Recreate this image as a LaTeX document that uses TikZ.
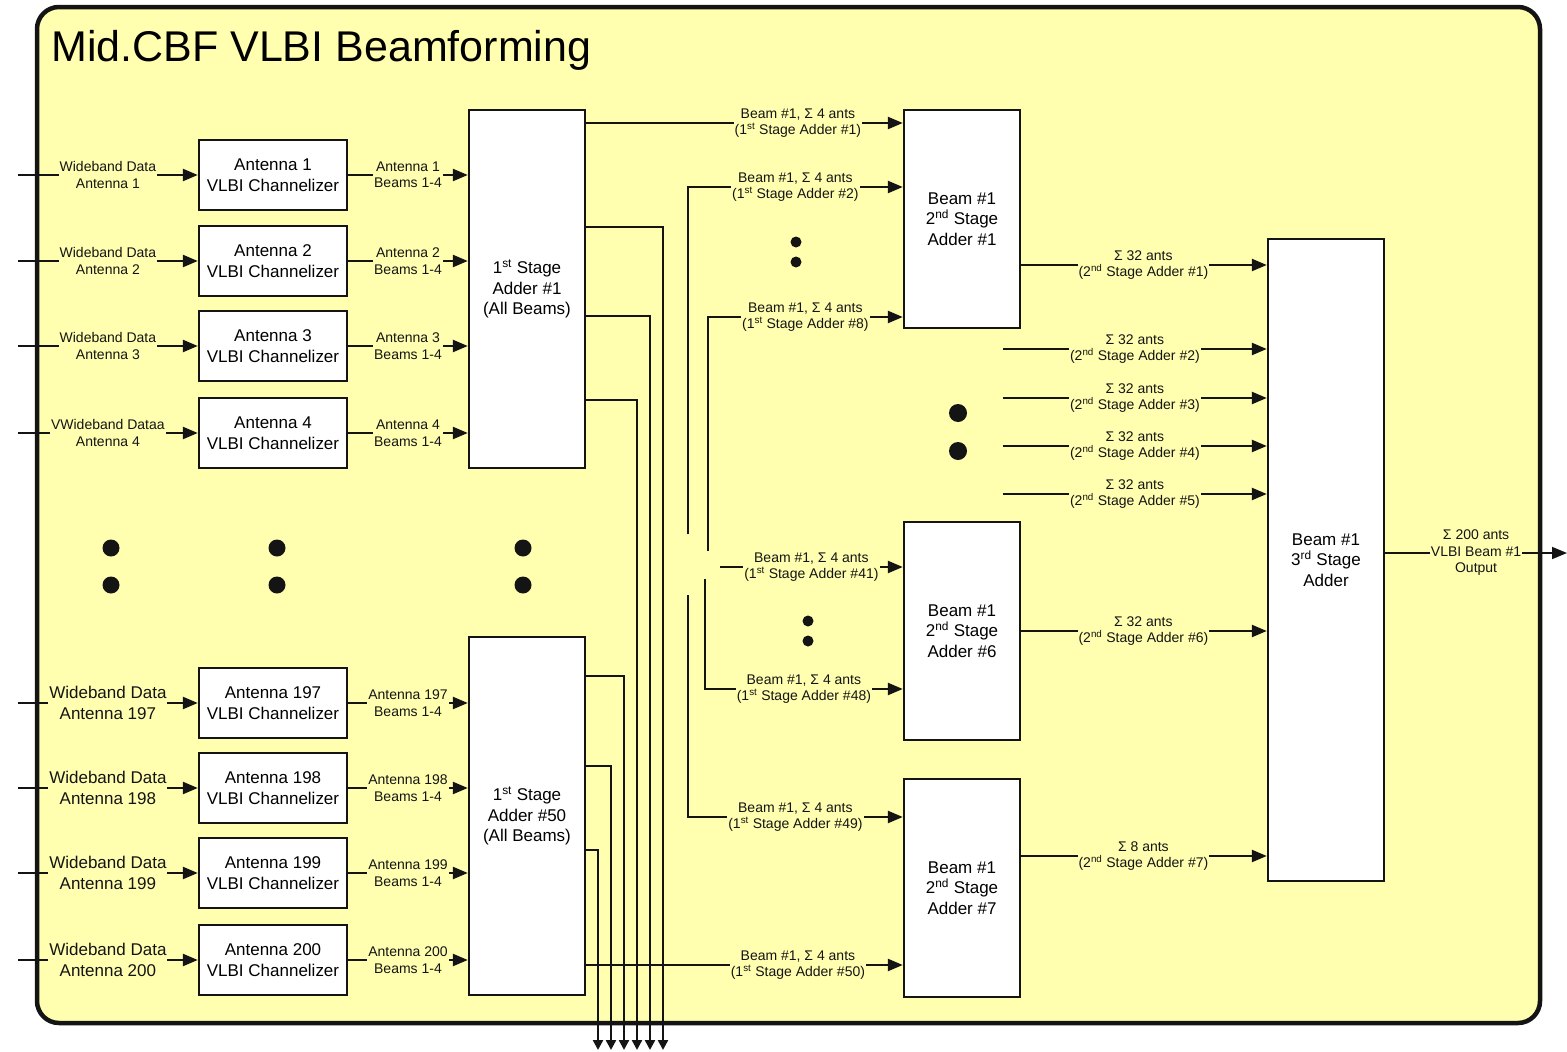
\documentclass[tikz,border=0pt]{standalone}
\usepackage{fontspec}
\setmainfont{Liberation Sans}
\usetikzlibrary{arrows.meta}
\definecolor{ink}{RGB}{20,20,20}
\definecolor{panel}{RGB}{255,255,175}
\newcommand{\lblsize}{\fontsize{14}{16.5}\selectfont}
\newcommand{\boxsize}{\fontsize{17}{20.5}\selectfont}
\newcommand{\headsize}{\fontsize{43}{50}\selectfont}

\begin{document}
\begin{tikzpicture}[x=1pt,y=-1pt]
  \tikzstyle{chanbox}=[draw=ink,fill=white,line width=2.4pt,minimum width=148pt,minimum height=70pt,align=center,inner sep=0pt,font=\boxsize]
  \tikzstyle{adderbox}=[draw=ink,fill=white,line width=2.4pt,minimum width=116pt,align=center,inner sep=0pt,font=\boxsize]
  \tikzstyle{lbl}=[fill=panel,inner sep=1pt,align=center,font=\lblsize,text=ink]
  \tikzstyle{biglbl}=[lbl,font=\boxsize]
  \tikzstyle{wire}=[draw=ink,line width=2.4pt]
  \tikzstyle{arr}=[wire,-{Triangle[length=15pt,width=12pt]}]
  \tikzstyle{downarr}=[wire,-{Triangle[length=10pt,width=10pt]}]
  \tikzstyle{bigdot}=[circle,fill=ink,inner sep=0pt,minimum size=17pt]
  \tikzstyle{smalldot}=[bigdot,minimum size=11pt]

  \useasboundingbox (0,0) rectangle (1567,1052);
  \node[draw=ink,fill=panel,line width=4.5pt,rounded corners=22pt,minimum width=1503pt,minimum height=1016pt,inner sep=0pt] (frame) at (788.5,515) {};
  \node[anchor=west,inner sep=0pt,font=\headsize] (title) at (51,50) {Mid.CBF VLBI Beamforming};

  % channelizers
  \node[chanbox] (chan1) at (273,175) {Antenna 1\\VLBI Channelizer};
  \node[chanbox] (chan2) at (273,261) {Antenna 2\\VLBI Channelizer};
  \node[chanbox] (chan3) at (273,346) {Antenna 3\\VLBI Channelizer};
  \node[chanbox] (chan4) at (273,433) {Antenna 4\\VLBI Channelizer};
  \node[chanbox] (chan197) at (273,703) {Antenna 197\\VLBI Channelizer};
  \node[chanbox] (chan198) at (273,788) {Antenna 198\\VLBI Channelizer};
  \node[chanbox] (chan199) at (273,873) {Antenna 199\\VLBI Channelizer};
  \node[chanbox] (chan200) at (273,960) {Antenna 200\\VLBI Channelizer};

  % adders
  \node[adderbox,minimum height=358pt] (first1) at (527,289) {1\textsuperscript{st} Stage\\Adder \#1\\(All Beams)};
  \node[adderbox,minimum height=358pt] (first50) at (527,816) {1\textsuperscript{st} Stage\\Adder \#50\\(All Beams)};
  \node[adderbox,minimum height=218pt] (second1) at (962,219) {Beam \#1\\2\textsuperscript{nd} Stage\\Adder \#1};
  \node[adderbox,minimum height=218pt] (second6) at (962,631) {Beam \#1\\2\textsuperscript{nd} Stage\\Adder \#6};
  \node[adderbox,minimum height=218pt] (second7) at (962,888) {Beam \#1\\2\textsuperscript{nd} Stage\\Adder \#7};
  \node[adderbox,minimum height=642pt] (third) at (1326,560) {Beam \#1\\3\textsuperscript{rd} Stage\\Adder};

  % dots
  \node[bigdot] (dotl1) at (111,548) {};
  \node[bigdot] (dotl2) at (111,585) {};
  \node[bigdot] (dotc1) at (277,548) {};
  \node[bigdot] (dotc2) at (277,585) {};
  \node[bigdot] (dota1) at (523,548) {};
  \node[bigdot] (dota2) at (523,585) {};
  \node[bigdot,minimum size=18pt] (dots1) at (958,413) {};
  \node[bigdot,minimum size=18pt] (dots2) at (958,451) {};
  \node[smalldot] (dotb1) at (796,242) {};
  \node[smalldot] (dotb2) at (796,262) {};
  \node[smalldot] (dotb3) at (808,621) {};
  \node[smalldot] (dotb4) at (808,641) {};

  % wideband inputs
  \coordinate (edge) at (18,0);
  \draw[arr] (chan1.west -| edge) -- node[lbl]{Wideband Data\\Antenna 1} (chan1.west);
  \draw[arr] (chan2.west -| edge) -- node[lbl]{Wideband Data\\Antenna 2} (chan2.west);
  \draw[arr] (chan3.west -| edge) -- node[lbl]{Wideband Data\\Antenna 3} (chan3.west);
  \draw[arr] (chan4.west -| edge) -- node[lbl]{VWideband Dataa\\Antenna 4} (chan4.west);
  \draw[arr] (chan197.west -| edge) -- node[biglbl]{Wideband Data\\Antenna 197} (chan197.west);
  \draw[arr] (chan198.west -| edge) -- node[biglbl]{Wideband Data\\Antenna 198} (chan198.west);
  \draw[arr] (chan199.west -| edge) -- node[biglbl]{Wideband Data\\Antenna 199} (chan199.west);
  \draw[arr] (chan200.west -| edge) -- node[biglbl]{Wideband Data\\Antenna 200} (chan200.west);

  % channelizer outputs
  \draw[arr] (chan1.east) -- node[lbl]{Antenna 1\\Beams 1-4} (chan1.east -| first1.west);
  \draw[arr] (chan2.east) -- node[lbl]{Antenna 2\\Beams 1-4} (chan2.east -| first1.west);
  \draw[arr] (chan3.east) -- node[lbl]{Antenna 3\\Beams 1-4} (chan3.east -| first1.west);
  \draw[arr] (chan4.east) -- node[lbl]{Antenna 4\\Beams 1-4} (chan4.east -| first1.west);
  \draw[arr] (chan197.east) -- node[lbl]{Antenna 197\\Beams 1-4} (chan197.east -| first50.west);
  \draw[arr] (chan198.east) -- node[lbl]{Antenna 198\\Beams 1-4} (chan198.east -| first50.west);
  \draw[arr] (chan199.east) -- node[lbl]{Antenna 199\\Beams 1-4} (chan199.east -| first50.west);
  \draw[arr] (chan200.east) -- node[lbl]{Antenna 200\\Beams 1-4} (chan200.east -| first50.west);

  % first stage outputs leaving downwards
  \coordinate (f1) at (585,227); \coordinate (g1) at (663,1050);
  \coordinate (f2) at (585,316); \coordinate (g2) at (650,1050);
  \coordinate (f3) at (585,400); \coordinate (g3) at (637,1050);
  \coordinate (f4) at (585,676); \coordinate (g4) at (624,1050);
  \coordinate (f5) at (585,766); \coordinate (g5) at (611,1050);
  \coordinate (f6) at (585,850); \coordinate (g6) at (598,1050);
  \draw[downarr] (f1) -| (g1);
  \draw[downarr] (f2) -| (g2);
  \draw[downarr] (f3) -| (g3);
  \draw[downarr] (f4) -| (g4);
  \draw[downarr] (f5) -| (g5);
  \draw[downarr] (f6) -| (g6);

  % first stage to second stage
  \coordinate (b1) at (585,123);
  \coordinate (b2) at (688,534); \coordinate (c2) at (688,187);
  \coordinate (b8) at (708,551); \coordinate (c8) at (708,317);
  \coordinate (b41) at (720,567);
  \coordinate (b48) at (705,579); \coordinate (c48) at (705,689);
  \coordinate (b49) at (688,595); \coordinate (c49) at (688,817);
  \coordinate (b50) at (585,965);
  \draw[arr] (b1) -- node[lbl,pos=.67]{Beam \#1, Σ 4 ants\\(1\textsuperscript{st} Stage Adder \#1)} (b1 -| second1.west);
  \draw[arr] (b2) -- (c2) -- node[lbl]{Beam \#1, Σ 4 ants\\(1\textsuperscript{st} Stage Adder \#2)} (c2 -| second1.west);
  \draw[arr] (b8) -- (c8) -- node[lbl]{Beam \#1, Σ 4 ants\\(1\textsuperscript{st} Stage Adder \#8)} (c8 -| second1.west);
  \draw[arr] (b41) -- node[lbl]{Beam \#1, Σ 4 ants\\(1\textsuperscript{st} Stage Adder \#41)} (b41 -| second6.west);
  \draw[arr] (b48) -- (c48) -- node[lbl]{Beam \#1, Σ 4 ants\\(1\textsuperscript{st} Stage Adder \#48)} (c48 -| second6.west);
  \draw[arr] (b49) -- (c49) -- node[lbl]{Beam \#1, Σ 4 ants\\(1\textsuperscript{st} Stage Adder \#49)} (c49 -| second7.west);
  \draw[arr] (b50) -- node[lbl,pos=.67]{Beam \#1, Σ 4 ants\\(1\textsuperscript{st} Stage Adder \#50)} (b50 -| second7.west);

  % second stage to third stage
  \coordinate (h1) at (1020,265);
  \coordinate (h2) at (1003,349);
  \coordinate (h3) at (1003,398);
  \coordinate (h4) at (1003,446);
  \coordinate (h5) at (1003,494);
  \coordinate (h6) at (1020,631);
  \coordinate (h7) at (1020,856);
  \draw[arr] (h1) -- node[lbl]{Σ 32 ants\\(2\textsuperscript{nd} Stage Adder \#1)} (h1 -| third.west);
  \draw[arr] (h2) -- node[lbl]{Σ 32 ants\\(2\textsuperscript{nd} Stage Adder \#2)} (h2 -| third.west);
  \draw[arr] (h3) -- node[lbl]{Σ 32 ants\\(2\textsuperscript{nd} Stage Adder \#3)} (h3 -| third.west);
  \draw[arr] (h4) -- node[lbl]{Σ 32 ants\\(2\textsuperscript{nd} Stage Adder \#4)} (h4 -| third.west);
  \draw[arr] (h5) -- node[lbl]{Σ 32 ants\\(2\textsuperscript{nd} Stage Adder \#5)} (h5 -| third.west);
  \draw[arr] (h6) -- node[lbl]{Σ 32 ants\\(2\textsuperscript{nd} Stage Adder \#6)} (h6 -| third.west);
  \draw[arr] (h7) -- node[lbl]{Σ 8 ants\\(2\textsuperscript{nd} Stage Adder \#7)} (h7 -| third.west);

  % beam output
  \coordinate (out) at (1567,553);
  \draw[arr,line width=1.6pt] (third.east |- out) -- node[lbl]{Σ 200 ants\\VLBI Beam \#1\\Output} (out);
\end{tikzpicture}
\end{document}
